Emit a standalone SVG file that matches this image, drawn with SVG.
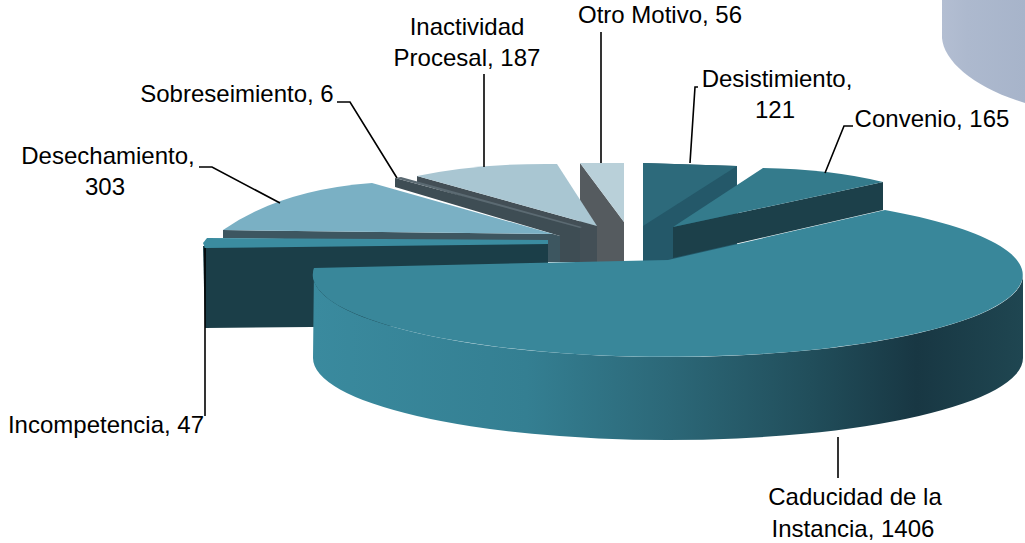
<svg xmlns="http://www.w3.org/2000/svg" width="1025" height="543" viewBox="0 0 1025 543">
<defs>
<style>
.lbl{font-family:"Liberation Sans",Arial,sans-serif;font-size:24px;fill:#000;text-anchor:middle}
.lead{fill:none;stroke:#000;stroke-width:1.6}
</style>
<linearGradient id="wallG" gradientUnits="userSpaceOnUse" x1="313" y1="0" x2="1023" y2="0">
<stop offset="0" stop-color="#3a8a9e"/>
<stop offset="0.3" stop-color="#347f92"/>
<stop offset="0.5" stop-color="#2c6878"/>
<stop offset="0.7" stop-color="#214e5b"/>
<stop offset="0.85" stop-color="#183743"/>
<stop offset="1" stop-color="#1f4651"/>
</linearGradient>
<linearGradient id="bgG" gradientUnits="userSpaceOnUse" x1="942" y1="0" x2="1025" y2="0">
<stop offset="0" stop-color="#b3bed2"/>
<stop offset="0.3" stop-color="#adb9ce"/>
<stop offset="1" stop-color="#a7b4ca"/>
</linearGradient>
</defs>
<rect width="1025" height="543" fill="#fff"/>
<g id="other-chart">
<path d="M942,0 L942,38 C944,62 975,88 1025,103 L1025,0 Z" fill="url(#bgG)"/>
</g>
<g id="otro-motivo">
<polygon points="580,163 624,222 624,262 580,262" fill="#555b5f"/>
<polygon points="580,163 624,163 624,222" fill="#b9d0d9"/>
</g>
<g id="inactividad">
<polygon points="417,176 597,226 597,262 578,262 578,232 417,183" fill="#434f56"/>
<path d="M417,176 Q480,163 557,164 L597,226 Z" fill="#a9c6d2"/>
</g>
<g id="sobreseimiento">
<polygon points="395,178 580,228 580,262 560,262 560,236 395,187" fill="#3e4d54"/>
<polygon points="395,178 401,177 582,227 580,228" fill="#5b6a72"/>
</g>
<g id="desechamiento">
<polygon points="223,230 553,234 560,236 560,262 545,262 545,243 223,238" fill="#3d5660"/>
<path d="M223,230 Q280,190 372,183 L553,234 Z" fill="#7ab0c4"/>
</g>
<g id="incompetencia">
<polygon points="203,246 548,243 548,325 205,328" fill="#1b3e48"/>
<polygon points="203,243 207,238 548,240 548,244 205,248" fill="#3b8ca0"/>
</g>
<g id="desistimiento">
<polygon points="643,163 737,166 737,262 643,262" fill="#245869"/>
<polygon points="643,163 737,166 643,226" fill="#2d6a7b"/>
</g>
<g id="convenio">
<polygon points="673,227 883,182 883,210 673,258" fill="#1c404a"/>
<path d="M673,227 L763,168 Q830,169 883,182 Z" fill="#347b8c"/>
</g>
<g id="caducidad">
<path d="M314,268 L313,275 A355 82 0 0 0 1023,275 L1023,358 A355 82 0 0 1 313,358 Z" fill="url(#wallG)"/>
<path d="M668,260 L314,268 A355 82 0 1 0 885,210 Z" fill="#39879a"/>
</g>
<g id="connectors">
<path class="lead" d="M601,32 V163"/>
<path class="lead" d="M484,74 V167"/>
<path class="lead" d="M337,102 H350 L397,178"/>
<path class="lead" d="M199,167 H212 L280,203"/>
<path class="lead" d="M698,87 H695 L690,163"/>
<path class="lead" d="M853,126 H844 L825,173"/>
<path class="lead" d="M205,248 V416"/>
<path class="lead" d="M838,437 V478"/>
</g>
<g id="labels">
<text class="lbl" x="660" y="23">Otro Motivo, 56</text>
<text class="lbl" x="467" y="35">Inactividad</text>
<text class="lbl" x="467" y="66">Procesal, 187</text>
<text class="lbl" x="237" y="102">Sobreseimiento, 6</text>
<text class="lbl" x="108" y="164">Desechamiento,</text>
<text class="lbl" x="105" y="195">303</text>
<text class="lbl" x="777" y="87">Desistimiento,</text>
<text class="lbl" x="775" y="118">121</text>
<text class="lbl" x="932" y="127">Convenio, 165</text>
<text class="lbl" x="106" y="433">Incompetencia, 47</text>
<text class="lbl" x="855" y="505">Caducidad de la</text>
<text class="lbl" x="853" y="537">Instancia, 1406</text>
</g>
</svg>
